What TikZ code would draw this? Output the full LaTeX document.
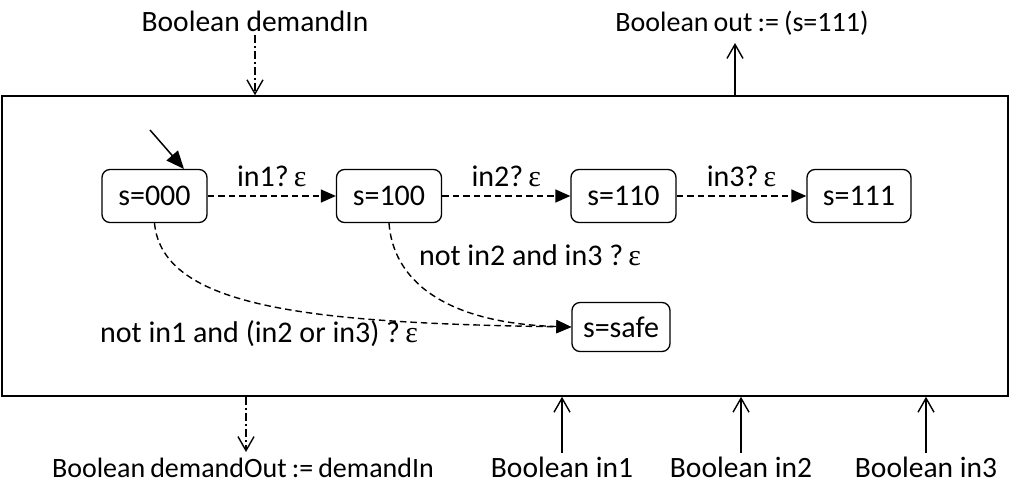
\documentclass[tikz,border=0pt]{standalone}
\usepackage{fontspec}
\setmainfont{Carlito}
\newfontfamily\grk{Liberation Serif}
\usetikzlibrary{arrows.meta}
\newcommand{\eps}{{\grk ε}}
\newcommand{\narrowfont}{\fontsize{28}{34}\selectfont\spaceskip=0.18em plus 0.05em\relax}
\begin{document}
\begin{tikzpicture}[x=1pt,y=-1pt,
  every node/.style={font=\fontsize{30}{36}\selectfont},
  outer/.style={anchor=base, font=\fontsize{29.5}{35}\selectfont},
  outernarrow/.style={anchor=base, font=\narrowfont},
  stbox/.style={draw, rounded corners=8pt, line width=1.3pt, minimum width=105pt, minimum height=53pt, inner sep=0pt},
  trans/.style={draw, line width=1.4pt, dash pattern=on 6.5pt off 4pt, -{Triangle[length=15pt,width=13pt]}},
  initarr/.style={draw, line width=1.5pt, -{Triangle[length=18pt,width=15pt]}},
  solidin/.style={draw, line width=1.4pt, -{Straight Barb[length=14pt,width=16pt]}},
  dashdot/.style={draw, line width=1.4pt, dash pattern=on 8pt off 3pt on 2pt off 3pt, -{Straight Barb[length=14pt,width=16pt]}},
  lbl/.style={inner sep=0pt}
]
\useasboundingbox (0,0) rectangle (1010,488);
\node[draw, line width=1.6pt, minimum width=1006pt, minimum height=300pt, inner sep=0pt] (frame) at (505,246) {};

\node[stbox] (s0) at (154.5,196) {s=000};
\node[stbox] (s1) at (389,196) {s=100};
\node[stbox] (s2) at (623.5,196) {s=110};
\node[stbox, minimum width=104pt] (s3) at (859,196) {s=111};
\node[stbox, minimum width=98pt, minimum height=49pt] (safe) at (621,327) {s=safe};

\coordinate (init) at (150,130);
\coordinate (initend) at (184,169);
\draw[initarr] (init) -- (initend);

\draw[trans] (s0) -- node[lbl, above=9pt] {in1?\,\eps} (s1);
\draw[trans] (s1) -- node[lbl, above=9pt] {in2?\,\eps} (s2);
\draw[trans] (s2) -- node[lbl, above=9pt] {in3?\,\eps} (s3);

\draw[trans] (s0.south) .. controls +(8,85) and +(-260,-4) .. (safe.west);
\draw[trans] (s1.south) .. controls +(4,55) and +(-130,-4) .. (safe.west);

\node[lbl] (l1) at (259,334) {not in1 and (in2 or in3) ?\,\eps};
\node[lbl] (l2) at (530,255) {not in2 and in3 ?\,\eps};

\node[outer] (demIn) at (255,31) {Boolean demandIn};
\node[outernarrow] (outt) at (742,31) {Boolean out := (s=111)};
\node[outernarrow] (demOut) at (243,477) {Boolean demandOut := demandIn};
\node[outer] (in1) at (562,477) {Boolean in1};
\node[outer] (in2) at (741,477) {Boolean in2};
\node[outer] (in3) at (926,477) {Boolean in3};

\coordinate (outtip) at (735,43);
\coordinate (demOutTip) at (246,452);

\draw[dashdot] (demIn.south) -- (demIn.south |- frame.north);
\draw[solidin] (frame.north -| outtip) -- (outtip);
\draw[dashdot] (frame.south -| demOutTip) -- (demOutTip);
\draw[solidin] (in1.north) -- (in1.north |- frame.south);
\draw[solidin] (in2.north) -- (in2.north |- frame.south);
\draw[solidin] (in3.north) -- (in3.north |- frame.south);
\end{tikzpicture}
\end{document}
